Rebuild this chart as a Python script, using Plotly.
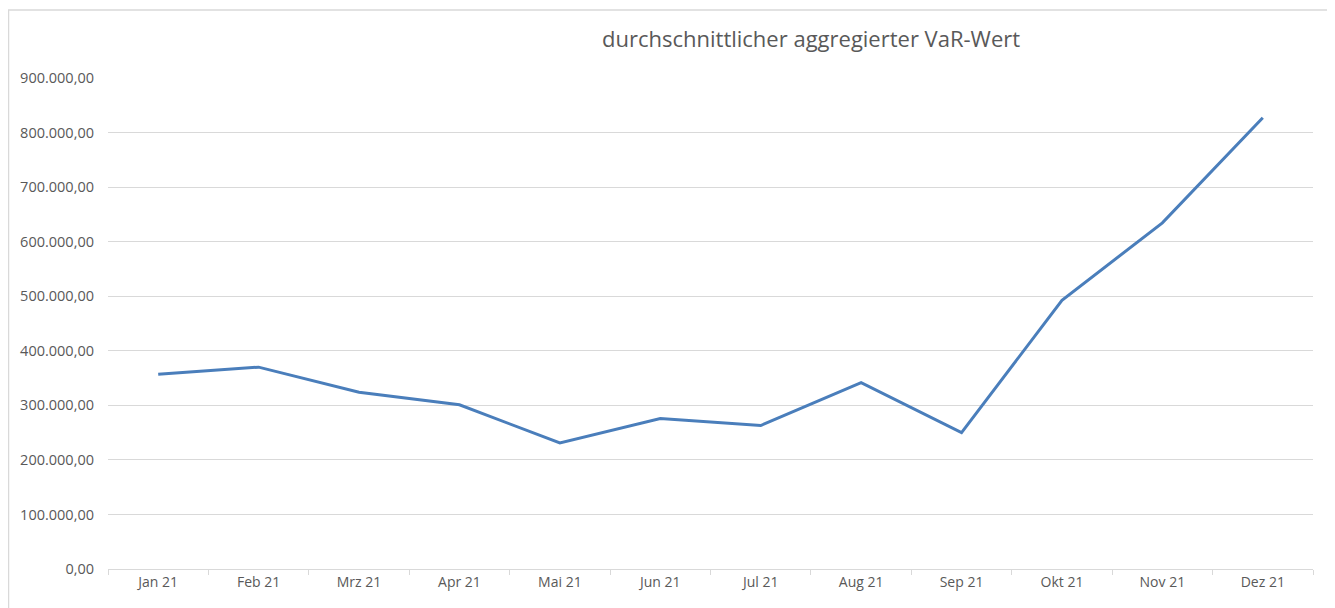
import plotly.graph_objects as go

months = ["Jan 21", "Feb 21", "Mrz 21", "Apr 21", "Mai 21", "Jun 21",
          "Jul 21", "Aug 21", "Sep 21", "Okt 21", "Nov 21", "Dez 21"]
var_values = [357000, 370000, 324000, 301000, 231000, 276000,
              263000, 341500, 250000, 492500, 634500, 827000]
title_text = "durchschnittlicher aggregierter VaR-Wert"

fig = go.Figure()
fig.add_trace(go.Scatter(
    x=months, y=var_values, mode="lines",
    line=dict(color="#4a7ebb", width=3),
    hoverinfo="x+y",
))

# page body has an 8px margin, so the figure starts at screen (8, 8)
OFF = 8
W, H = 1335 - OFF, 608 - OFF
L, R, T, B = 100, 22, 70, 39
pw, ph = W - L - R, H - T - B

def px_x(v):  # screen x -> paper
    return (v - OFF - L) / pw

def px_y(v):  # screen y -> paper
    return (H - B - (v - OFF)) / ph

fig.update_layout(
    width=W, height=H,
    margin=dict(l=L, r=R, t=T, b=B),
    paper_bgcolor="white", plot_bgcolor="white",
    separators=",.",
    showlegend=False,
    font=dict(family="Open Sans, Calibri, sans-serif", color="#595959", size=14),
    xaxis=dict(
        type="category",
        tickson="boundaries",
        ticks="outside", ticklen=5, tickcolor="#d9d9d9",
        showline=True, linecolor="#d9d9d9", linewidth=1,
        showgrid=False,
        tickfont=dict(size=14, color="#595959"),
        range=[-0.5, 11.5],
    ),
    yaxis=dict(
        range=[0, 900000],
        tickvals=[0, 100000, 200000, 300000, 400000, 500000, 600000, 700000, 800000, 900000],
        tickformat=",.2f",
        showgrid=True, gridcolor="#d9d9d9", gridwidth=1,
        zeroline=False, showline=False,
        ticks="", ticklabelstandoff=13,
        tickfont=dict(size=14.5, color="#595959"),
    ),
    shapes=[dict(
        type="rect", xref="paper", yref="paper",
        x0=px_x(8.5), x1=px_x(1330), y0=px_y(612), y1=px_y(10),
        line=dict(color="#d9d9d9", width=1.5), fillcolor="rgba(0,0,0,0)",
        layer="below",
    )],
    annotations=[dict(
        text=title_text, xref="paper", yref="paper",
        x=px_x(811), y=px_y(38), xanchor="center", yanchor="middle",
        showarrow=False,
        font=dict(size=22, color="#595959", family="Open Sans, Calibri, sans-serif"),
    )],
)

fig.write_html("out.html")
